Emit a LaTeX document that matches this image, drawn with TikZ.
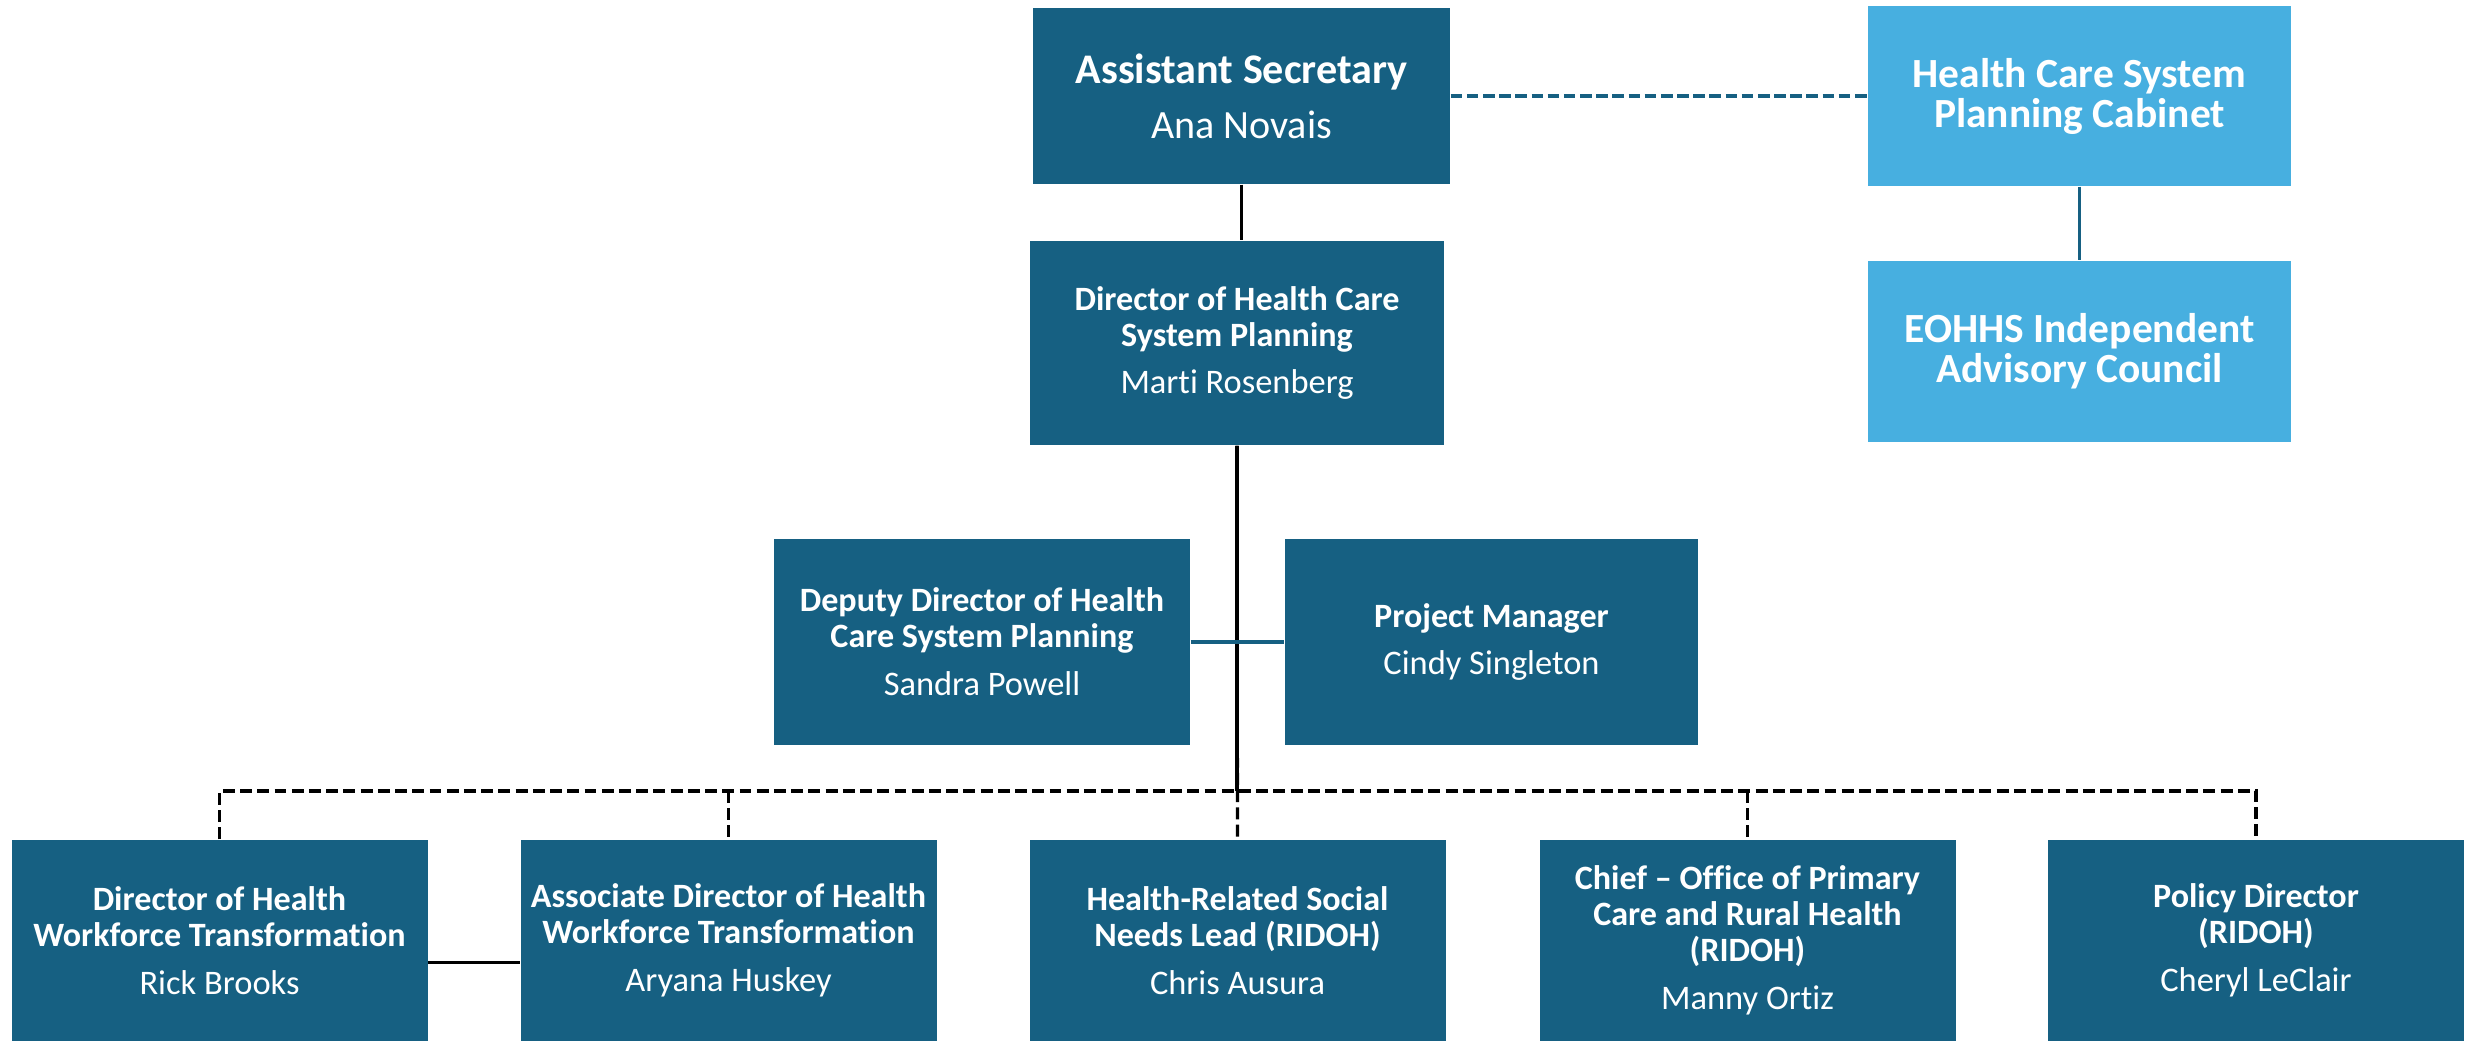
\documentclass[tikz,border=0pt]{standalone}
\usepackage{fontspec}
\setmainfont{Carlito}[Ligatures={TeX,NoCommon}]
\usepackage{xcolor}
\usepackage{tikz}

\definecolor{orgdark}{HTML}{166082}
\definecolor{orglight}{HTML}{47AFE0}

\newcommand{\orgrole}[2]{#1\\[3.4pt]\mdseries\fontsize{9.8}{10.24}\selectfont #2}

\tikzset{
 unit/.style={fill=orgdark,text=white,align=center,inner sep=0pt,
   minimum width=4.16cm,minimum height=2.04cm,
   font=\fontsize{9.7}{10.24}\selectfont\bfseries},
 board/.style={unit,fill=orglight,minimum width=4.23cm,minimum height=1.80cm,
   font=\fontsize{11.8}{11.4}\selectfont\bfseries},
 solidlink/.style={line width=0.9pt,black},
 bluelink/.style={line width=0.9pt,orgdark},
 bluedash/.style={bluelink,dash pattern=on 3.3pt off 1.3pt},
 dashlink/.style={line width=0.9pt,black,dash pattern=on 3.4pt off 1.5pt},
}

\begin{document}
\begin{tikzpicture}
 \useasboundingbox (0,0) rectangle (24.66,-10.41);

 \coordinate (asst-c) at (12.415,-0.96);
 \coordinate (cab-c) at (20.795,-0.96);
 \coordinate (dir-c) at (12.37,-3.43);
 \coordinate (eohhs-c) at (20.795,-3.515);
 \coordinate (dep-c) at (9.82,-6.42);
 \coordinate (pm-c) at (14.915,-6.42);

 \coordinate (b1-c) at (2.195,-9.405);
 \coordinate (b2-c) at (7.285,-9.405);
 \coordinate (b3-c) at (12.375,-9.405);
 \coordinate (b4-c) at (17.475,-9.405);
 \coordinate (b5-c) at (22.56,-9.405);

 \coordinate (bus) at (12.37,-7.91);


 \node[unit,minimum width=4.17cm,minimum height=1.76cm,
   font=\fontsize{12}{11.4}\selectfont\bfseries] (asst) at (asst-c)
   {Assistant Secretary\\[4.2pt]\mdseries\fontsize{11.4}{11.4}\selectfont Ana Novais};
 \node[board] (cab) at (cab-c) {Health Care System\\Planning Cabinet};
 \node[unit,minimum width=4.14cm] (chief) at (dir-c)
   {\orgrole{Director of Health Care\\System Planning}{Marti Rosenberg}};
 \node[board,minimum height=1.81cm] (eohhs) at (eohhs-c) {EOHHS Independent\\Advisory Council};

 \node[unit,minimum height=2.06cm] (dep) at (dep-c)
   {\orgrole{Deputy Director of Health\\Care System Planning}{Sandra Powell}};
 \node[unit,minimum width=4.13cm,minimum height=2.06cm] (pm) at (pm-c)
   {\orgrole{Project Manager}{Cindy Singleton}};

 \node[unit,minimum height=2.01cm] (b1) at (b1-c)
   {\orgrole{Director of Health\\Workforce Transformation}{Rick Brooks}};
 \node[unit,minimum height=2.01cm] (b2) at (b2-c)
   {\orgrole{Associate Director of Health\\Workforce Transformation}{Aryana Huskey}};
 \node[unit,minimum height=2.01cm] (b3) at (b3-c)
   {\orgrole{Health-Related Social\\Needs Lead (RIDOH)}{Chris Ausura}};
 \node[unit,minimum height=2.01cm] (b4) at (b4-c)
   {\orgrole{Chief -- Office of Primary\\Care and Rural Health\\(RIDOH)}{Manny Ortiz}};
 \node[unit,minimum height=2.01cm] (b5) at (b5-c)
   {\orgrole{Policy Director\\(RIDOH)}{Cheryl LeClair}};


 \draw[solidlink] (asst.south) -- (asst.south |- chief.north);
 \draw[bluedash] (asst.east) -- (cab.west);
 \draw[bluelink] (cab.south) -- (cab.south |- eohhs.north);

 \draw[solidlink] (chief.south) -- (bus);
 \draw[dashlink] (chief.south) -- (b3.north);
 \draw[bluelink] (dep.east) -- (pm.west);

 % dotted reporting lines to the bottom row
 \draw[dashlink] (b1.north) -- (b1.north |- bus) -- (b5.north |- bus) -- (b5.north);
 \draw[dashlink] (b2.north |- bus) -- (b2.north);
 \draw[dashlink] (b4.north |- bus) -- (b4.north);

 \draw[solidlink] ([yshift=-0.22cm]b1.east) -- ([yshift=-0.22cm]b2.west);

\end{tikzpicture}
\end{document}
